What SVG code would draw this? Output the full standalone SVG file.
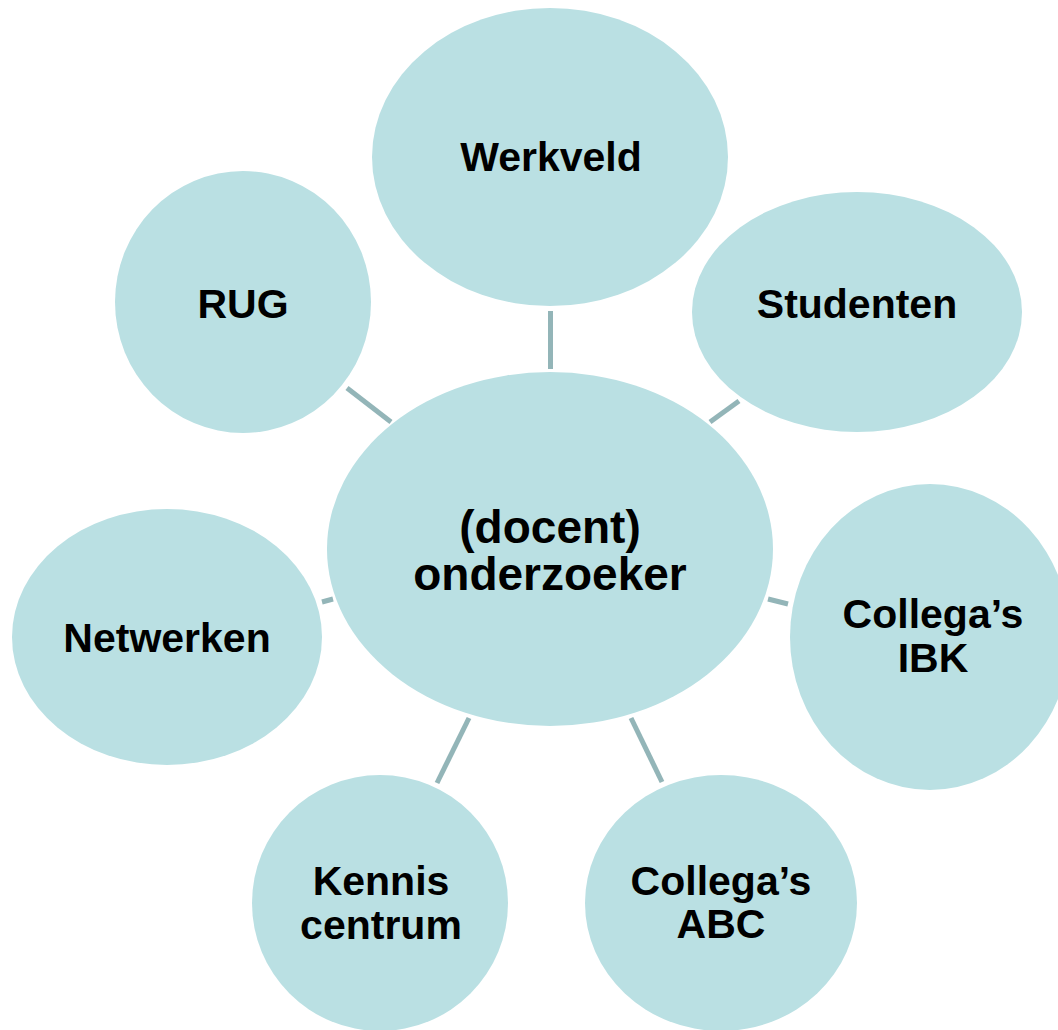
<svg xmlns="http://www.w3.org/2000/svg" width="1058" height="1030" viewBox="0 0 1058 1030">
<style>
.n{fill:#BAE0E3}
.t{font-family:"Liberation Sans",Arial,sans-serif;font-weight:bold;font-size:41px;fill:#000;text-anchor:middle}
.c{font-size:46px}
.l{stroke:#93B5B8;stroke-width:5;fill:none}
</style>
<rect width="1058" height="1030" fill="#fff"/>
<g id="connectors">
<line class="l" x1="550.5" y1="311" x2="550.5" y2="369"/>
<line class="l" x1="347" y1="388" x2="391" y2="422"/>
<line class="l" x1="739" y1="401" x2="710" y2="422"/>
<line class="l" x1="322" y1="602" x2="333" y2="599"/>
<line class="l" x1="768" y1="599" x2="788" y2="604"/>
<line class="l" x1="469" y1="718" x2="437" y2="783"/>
<line class="l" x1="631" y1="718" x2="662" y2="782"/>
</g>
<g id="werkveld"><ellipse class="n" cx="550" cy="157" rx="178" ry="149"/><text class="t" x="551" y="171">Werkveld</text></g>
<g id="rug"><ellipse class="n" cx="243" cy="302" rx="128" ry="131"/><text class="t" x="243" y="318">RUG</text></g>
<g id="studenten"><ellipse class="n" cx="857" cy="312" rx="165" ry="120"/><text class="t" x="857" y="318">Studenten</text></g>
<g id="netwerken"><ellipse class="n" cx="167" cy="637" rx="155" ry="128"/><text class="t" x="167" y="652">Netwerken</text></g>
<g id="ibk"><ellipse class="n" cx="930" cy="637" rx="140" ry="153"/><text class="t" x="933" y="628">Collega’s</text><text class="t" x="933" y="672">IBK</text></g>
<g id="kennis"><ellipse class="n" cx="380" cy="903" rx="128" ry="128"/><text class="t" x="381" y="895">Kennis</text><text class="t" x="381" y="939">centrum</text></g>
<g id="abc"><ellipse class="n" cx="721" cy="903" rx="136" ry="128"/><text class="t" x="721" y="895">Collega’s</text><text class="t" x="721" y="938">ABC</text></g>
<g id="center"><ellipse class="n" cx="550" cy="549" rx="223" ry="177"/><text class="t c" x="550" y="543">(docent)</text><text class="t c" x="550" y="590">onderzoeker</text></g>
</svg>
